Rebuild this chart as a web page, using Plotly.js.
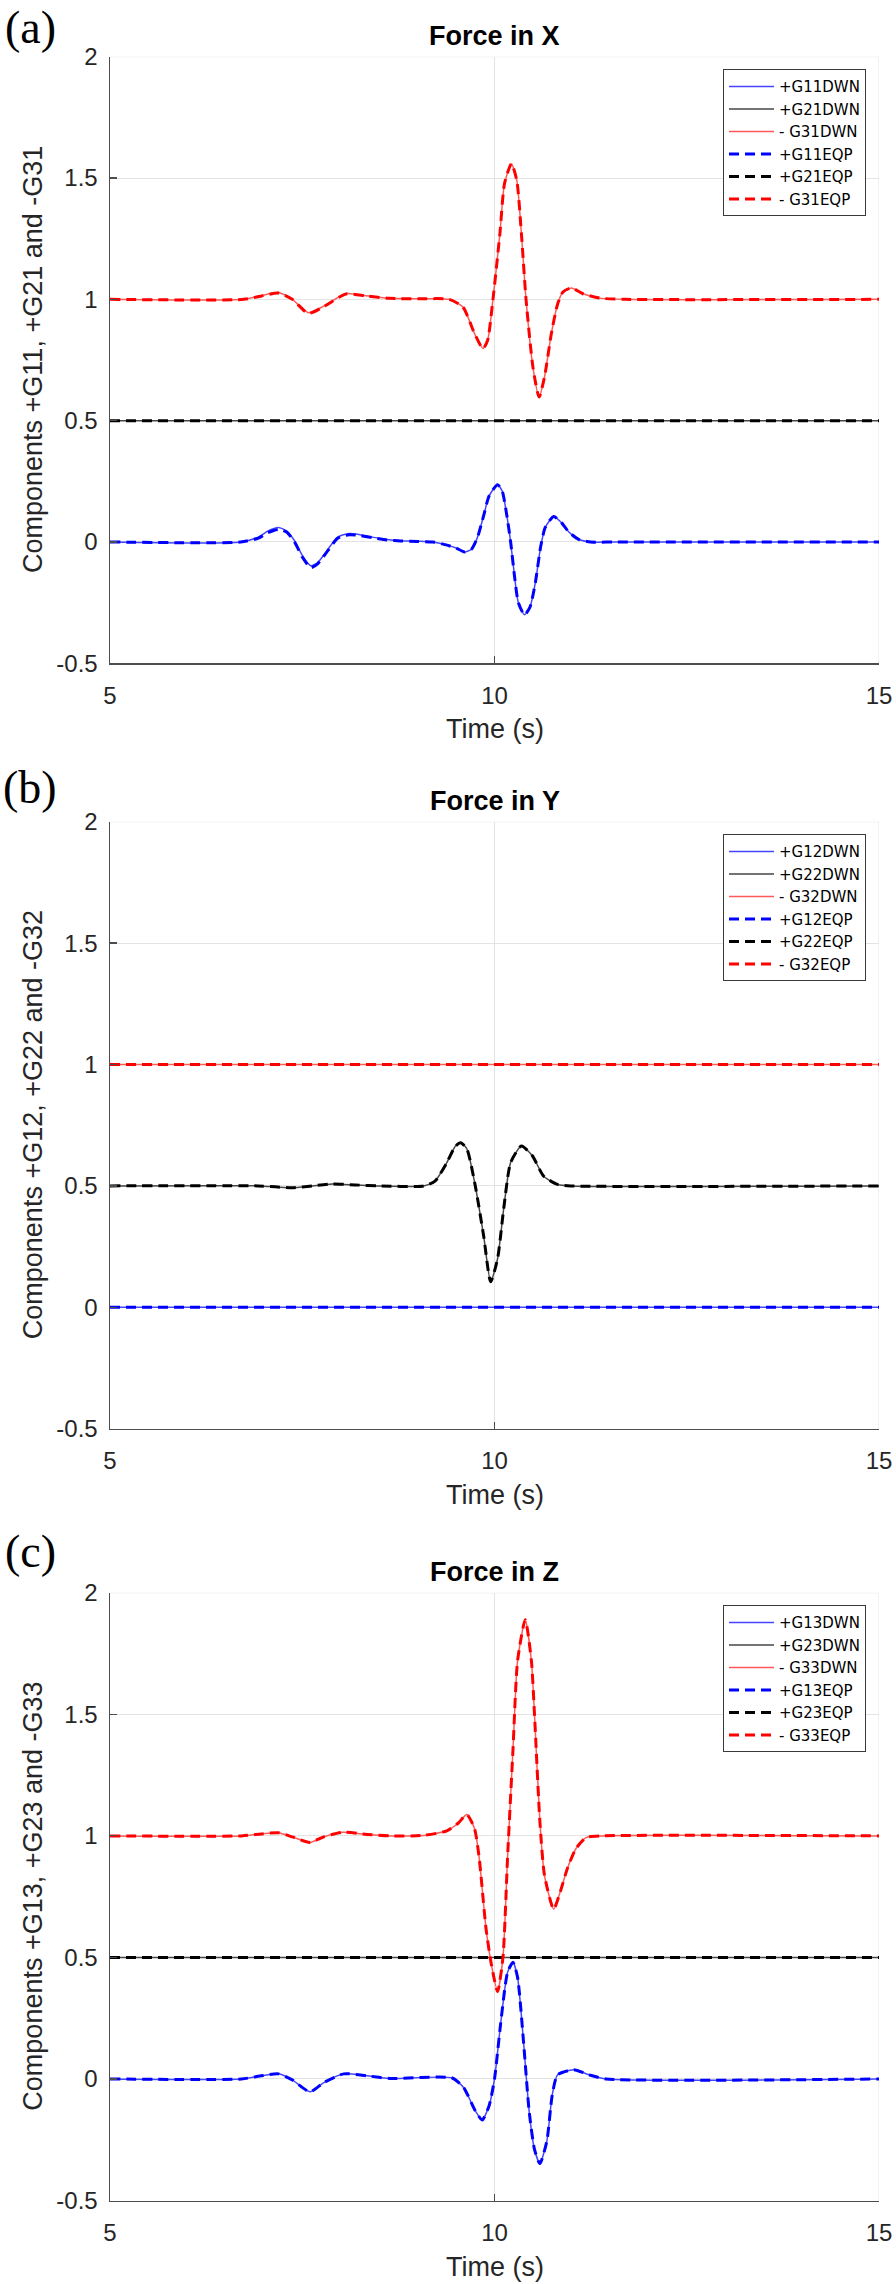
<!DOCTYPE html>
<html>
<head>
<meta charset="utf-8">
<script src="https://cdn.plot.ly/plotly-3.0.1.min.js"></script>
<style>
  html, body { margin: 0; padding: 0; background: #fff; }
  #chart { width: 896px; height: 2284px; }
</style>
</head>
<body>
<div id="chart"></div>
<script>
// ---------------- DATA ----------------
const xTicks = [5, 10, 15];
const xTickText = ['5', '10', '15'];
const yTicks = [-0.5, 0, 0.5, 1, 1.5, 2];
const yTickText = ['-0.5', '0', '0.5', '1', '1.5', '2'];

// Panel (a) Force in X
const tA_G11 = [5, 6.7, 6.93, 7.05, 7.19, 7.3, 7.4, 7.5, 7.61, 7.7, 7.8, 7.96, 8.11, 8.25, 8.41, 8.6, 8.78, 9.0, 9.2, 9.37, 9.5, 9.61, 9.7, 9.78, 9.86, 9.93, 10.04, 10.1, 10.16, 10.21, 10.26, 10.31, 10.39, 10.46, 10.53, 10.6, 10.66, 10.77, 10.87, 10.97, 11.1, 11.25, 11.6, 15];
const G11DWN = [0, 0, 0.02, 0.045, 0.06, 0.045, 0.005, -0.055, -0.098, -0.085, -0.045, 0.02, 0.035, 0.03, 0.02, 0.01, 0.005, 0.003, 0, -0.012, -0.025, -0.041, -0.03, 0.02, 0.11, 0.19, 0.236, 0.21, 0.11, 0.0, -0.14, -0.25, -0.30, -0.27, -0.17, -0.02, 0.06, 0.105, 0.08, 0.04, 0.01, 0, 0, 0];
const G11EQP = [0, 0, 0.016, 0.038, 0.052, 0.04, 0.0, -0.062, -0.106, -0.09, -0.05, 0.015, 0.03, 0.027, 0.018, 0.008, 0.004, 0.002, 0, -0.012, -0.025, -0.041, -0.03, 0.02, 0.11, 0.19, 0.236, 0.21, 0.11, 0.0, -0.14, -0.25, -0.30, -0.27, -0.17, -0.02, 0.06, 0.105, 0.08, 0.04, 0.01, 0, 0, 0];
const tA_G21 = [5, 15];
const G21DWN = [0.5, 0.5];
const G21EQP = [0.5, 0.5];
const tA_G31 = [5, 6.74, 6.96, 7.19, 7.37, 7.58, 7.78, 8.07, 8.33, 8.63, 9.0, 9.41, 9.59, 9.74, 9.85, 9.91, 9.98, 10.07, 10.13, 10.22, 10.29, 10.35, 10.41, 10.5, 10.58, 10.65, 10.74, 10.82, 10.89, 11.0, 11.15, 11.37, 11.7, 15];
const G31DWN = [1, 1, 1.015, 1.028, 1.0, 0.945, 0.972, 1.024, 1.015, 1.004, 1.002, 1.0, 0.968, 0.859, 0.797, 0.83, 1.0, 1.27, 1.477, 1.559, 1.49, 1.27, 1.0, 0.72, 0.597, 0.68, 0.86, 0.98, 1.03, 1.047, 1.023, 1.005, 1.0, 1];
const G31EQP = [1, 1, 1.013, 1.026, 1.0, 0.942, 0.97, 1.022, 1.014, 1.004, 1.002, 1.0, 0.968, 0.859, 0.797, 0.83, 1.0, 1.27, 1.477, 1.559, 1.49, 1.27, 1.0, 0.72, 0.597, 0.68, 0.86, 0.98, 1.03, 1.047, 1.023, 1.005, 1.0, 1];

// Panel (b) Force in Y
const tB_G12 = [5, 15];
const G12DWN = [0, 0];
const G12EQP = [0, 0];
const tB_G22 = [5, 6.93, 7.15, 7.37, 7.63, 7.89, 8.19, 8.49, 9.08, 9.23, 9.38, 9.49, 9.56, 9.64, 9.75, 9.86, 9.95, 10.04, 10.12, 10.21, 10.35, 10.49, 10.64, 10.82, 11.0, 15];
const G22DWN = [0.5, 0.5, 0.496, 0.492, 0.5, 0.508, 0.504, 0.5, 0.5, 0.521, 0.596, 0.663, 0.678, 0.653, 0.5, 0.292, 0.105, 0.2, 0.407, 0.596, 0.664, 0.625, 0.54, 0.506, 0.5, 0.5];
const G22EQP = [0.5, 0.5, 0.496, 0.492, 0.5, 0.508, 0.504, 0.5, 0.5, 0.521, 0.596, 0.663, 0.678, 0.653, 0.5, 0.292, 0.105, 0.2, 0.407, 0.596, 0.664, 0.625, 0.54, 0.506, 0.5, 0.5];
const tB_G32 = [5, 15];
const G32DWN = [1, 1];
const G32EQP = [1, 1];

// Panel (c) Force in Z
const tC_G13 = [5, 6.71, 6.95, 7.19, 7.37, 7.6, 7.78, 8.04, 8.34, 8.64, 9.45, 9.6, 9.75, 9.84, 9.93, 10.0, 10.08, 10.17, 10.24, 10.3, 10.38, 10.45, 10.52, 10.59, 10.68, 10.75, 10.82, 11.03, 11.23, 11.45, 15];
const G13DWN = [0, 0, 0.012, 0.021, -0.004, -0.053, -0.015, 0.021, 0.013, 0.002, 0.004, -0.036, -0.131, -0.169, -0.11, 0, 0.228, 0.439, 0.48, 0.418, 0.143, -0.131, -0.29, -0.348, -0.257, -0.068, 0.017, 0.038, 0.017, 0, 0];
const G13EQP = [0, 0, 0.012, 0.021, -0.004, -0.053, -0.015, 0.021, 0.013, 0.002, 0.004, -0.036, -0.131, -0.169, -0.11, 0, 0.228, 0.439, 0.48, 0.418, 0.143, -0.131, -0.29, -0.348, -0.257, -0.068, 0.017, 0.038, 0.017, 0, 0];
const tC_G23 = [5, 15];
const G23DWN = [0.5, 0.5];
const G23EQP = [0.5, 0.5];
const tC_G33 = [5, 6.71, 6.97, 7.19, 7.37, 7.6, 7.78, 8.02, 8.34, 8.64, 9.08, 9.38, 9.53, 9.64, 9.74, 9.8, 9.89, 9.96, 10.04, 10.11, 10.17, 10.24, 10.3, 10.4, 10.48, 10.52, 10.59, 10.65, 10.77, 10.85, 10.95, 11.06, 11.19, 11.4, 15];
const G33DWN = [1, 1, 1.008, 1.013, 0.996, 0.973, 0.996, 1.015, 1.006, 1.0, 1.002, 1.021, 1.053, 1.088, 1.03, 0.912, 0.618, 0.47, 0.36, 0.5, 0.912, 1.353, 1.72, 1.889, 1.72, 1.5, 1.06, 0.838, 0.698, 0.765, 0.868, 0.948, 0.993, 1.0, 1];
const G33EQP = [1, 1, 1.008, 1.013, 0.996, 0.973, 0.996, 1.015, 1.006, 1.0, 1.002, 1.021, 1.053, 1.088, 1.03, 0.912, 0.618, 0.47, 0.36, 0.5, 0.912, 1.353, 1.72, 1.889, 1.72, 1.5, 1.06, 0.838, 0.698, 0.765, 0.868, 0.948, 0.993, 1.0, 1];

const panelTitles = ['Force in X', 'Force in Y', 'Force in Z'];
const panelLabels = ['(a)', '(b)', '(c)'];
const xTitle = 'Time (s)';
const yTitles = ['Components +G11, +G21 and -G31', 'Components +G12, +G22 and -G32', 'Components +G13, +G23 and -G33'];

// ---------------- LAYOUT HELPERS ----------------
const W = 896, H = 2284;
const px = v => v / W;
const py = v => 1 - v / H;
const plotL = 110, plotR = 879;
const panels = [
  {top: 56.7, bottom: 663.3, label: 28, title: 36},
  {top: 821.7, bottom: 1428.7, label: 787, title: 801},
  {top: 1592.8, bottom: 2200.5, label: 1551, title: 1572}
];

const DWN_COL = ['rgb(70,70,255)', 'rgb(70,70,70)', 'rgb(255,90,90)'];
const EQP_COL = ['#0000ff', '#000000', '#ff0000'];
const DASH = '10px,6px';

function tr(t, y, name, color, dashed, idx) {
  const s = idx === 0 ? '' : String(idx + 1);
  return {
    type: 'scatter', mode: 'lines', x: t, y: y, name: name,
    xaxis: 'x' + s, yaxis: 'y' + s, legend: 'legend' + s,
    line: {color: color, width: dashed ? 3 : 1.5, dash: dashed ? DASH : 'solid', shape: 'spline', smoothing: 0.6},
    hoverinfo: 'skip'
  };
}

const data = [
  tr(tA_G11, G11DWN, '+G11DWN', DWN_COL[0], false, 0),
  tr(tA_G21, G21DWN, '+G21DWN', DWN_COL[1], false, 0),
  tr(tA_G31, G31DWN, '- G31DWN', DWN_COL[2], false, 0),
  tr(tA_G11, G11EQP, '+G11EQP', EQP_COL[0], true, 0),
  tr(tA_G21, G21EQP, '+G21EQP', EQP_COL[1], true, 0),
  tr(tA_G31, G31EQP, '- G31EQP', EQP_COL[2], true, 0),

  tr(tB_G12, G12DWN, '+G12DWN', DWN_COL[0], false, 1),
  tr(tB_G22, G22DWN, '+G22DWN', DWN_COL[1], false, 1),
  tr(tB_G32, G32DWN, '- G32DWN', DWN_COL[2], false, 1),
  tr(tB_G12, G12EQP, '+G12EQP', EQP_COL[0], true, 1),
  tr(tB_G22, G22EQP, '+G22EQP', EQP_COL[1], true, 1),
  tr(tB_G32, G32EQP, '- G32EQP', EQP_COL[2], true, 1),

  tr(tC_G13, G13DWN, '+G13DWN', DWN_COL[0], false, 2),
  tr(tC_G23, G23DWN, '+G23DWN', DWN_COL[1], false, 2),
  tr(tC_G33, G33DWN, '- G33DWN', DWN_COL[2], false, 2),
  tr(tC_G13, G13EQP, '+G13EQP', EQP_COL[0], true, 2),
  tr(tC_G23, G23EQP, '+G23EQP', EQP_COL[1], true, 2),
  tr(tC_G33, G33EQP, '- G33EQP', EQP_COL[2], true, 2)
];

const FONT = 'Liberation Sans, Arial, sans-serif';
const AXC = '#4d4d4d';
const GRID = '#e3e3e3';

const layout = {
  width: W, height: H,
  margin: {l: 0, r: 0, t: 0, b: 0},
  paper_bgcolor: '#ffffff', plot_bgcolor: '#ffffff',
  showlegend: true,
  font: {family: FONT, color: '#262626'},
  annotations: [],
  shapes: []
};

panels.forEach((p, i) => {
  const s = i === 0 ? '' : String(i + 1);
  layout['xaxis' + s] = {
    domain: [px(plotL), px(plotR)], anchor: 'y' + s, range: [5, 15],
    tickmode: 'array', tickvals: xTicks, ticktext: xTickText,
    showline: true, linecolor: AXC, linewidth: 1.5,
    ticks: 'inside', ticklen: 7, tickwidth: 1.2, tickcolor: AXC,
    showgrid: true, gridcolor: GRID, gridwidth: 1, zeroline: false,
    tickfont: {family: FONT, size: 24, color: '#262626'},
    ticklabelstandoff: 10, fixedrange: true
  };
  layout['yaxis' + s] = {
    domain: [py(p.bottom), py(p.top)], anchor: 'x' + s, range: [-0.5, 2],
    tickmode: 'array', tickvals: yTicks, ticktext: yTickText,
    showline: true, linecolor: AXC, linewidth: 1.5,
    ticks: 'inside', ticklen: 7, tickwidth: 1.2, tickcolor: AXC,
    showgrid: true, gridcolor: GRID, gridwidth: 1, zeroline: false,
    tickfont: {family: FONT, size: 24, color: '#262626'},
    ticklabelstandoff: 6, fixedrange: true
  };
  layout['legend' + s] = {
    x: px(866), xanchor: 'right', y: py(p.top + 12.5), yanchor: 'top',
    bgcolor: '#ffffff', bordercolor: '#3a3a3a', borderwidth: 1,
    font: {family: 'DejaVu Sans, sans-serif', size: 15, color: '#000000'},
    itemwidth: 45, tracegroupgap: 0, traceorder: 'normal'
  };
  // top and right grid lines (box off, grid on)
  layout.shapes.push({type: 'line', xref: 'x' + s + ' domain', yref: 'y' + s, x0: 0, x1: 1, y0: 2, y1: 2, line: {color: GRID, width: 1}, layer: 'below'});
  layout.shapes.push({type: 'line', xref: 'x' + s, yref: 'y' + s + ' domain', x0: 15, x1: 15, y0: 0, y1: 1, line: {color: GRID, width: 1}, layer: 'below'});

  layout.annotations.push({
    text: panelLabels[i], xref: 'paper', yref: 'paper', x: px(30), y: py(p.label),
    xanchor: 'center', yanchor: 'middle', showarrow: false,
    font: {family: 'Liberation Serif, Times New Roman, serif', size: 46, color: '#000'}
  });
  layout.annotations.push({
    text: '<b>' + panelTitles[i] + '</b>', xref: 'paper', yref: 'paper', x: px(495), y: py(p.title),
    xanchor: 'center', yanchor: 'middle', showarrow: false,
    font: {family: FONT, size: 27, color: '#000'}
  });
  layout.annotations.push({
    text: xTitle, xref: 'paper', yref: 'paper', x: px(495), y: py(p.bottom + 66),
    xanchor: 'center', yanchor: 'middle', showarrow: false,
    font: {family: FONT, size: 27, color: '#262626'}
  });
  layout.annotations.push({
    text: yTitles[i], xref: 'paper', yref: 'paper', x: px(33), y: py((p.top + p.bottom) / 2),
    xanchor: 'center', yanchor: 'middle', showarrow: false, textangle: -90,
    font: {family: FONT, size: 27, color: '#262626'}
  });
});

Plotly.newPlot('chart', data, layout, {staticPlot: true, displayModeBar: false});
</script>
</body>
</html>
